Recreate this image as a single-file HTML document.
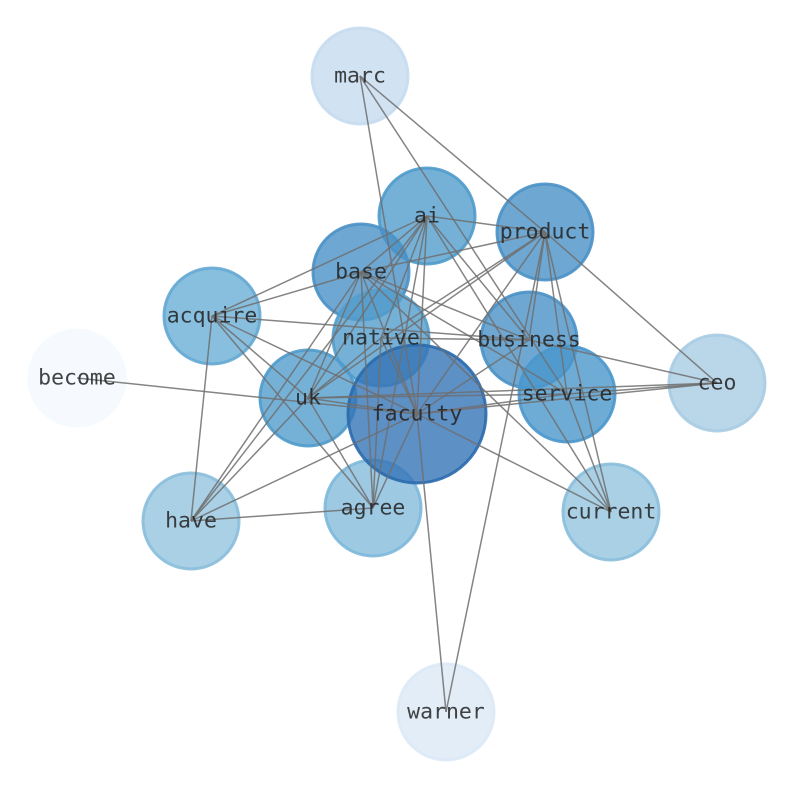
<!DOCTYPE html>
<html><head><style>html,body{margin:0;padding:0;background:#fff}</style></head>
<body>
<svg width="794" height="790" viewBox="0 0 794 790" xmlns="http://www.w3.org/2000/svg">
<g stroke-width="3" fill-opacity="0.8" stroke-opacity="0.9">
<circle cx="360" cy="76" r="48" fill="#c6dbef" stroke="#c6dbef"/>
<circle cx="77" cy="378" r="48" fill="#f4f9fe" stroke="#f4f9fe"/>
<circle cx="446" cy="712" r="48" fill="#dbe9f6" stroke="#dbe9f6"/>
<circle cx="717" cy="383" r="48" fill="#a9cce3" stroke="#a9cce3"/>
<circle cx="191" cy="521" r="48" fill="#94c4df" stroke="#89bedc"/>
<circle cx="611" cy="512" r="48" fill="#94c4df" stroke="#89bedc"/>
<circle cx="373" cy="508" r="48" fill="#85bcdc" stroke="#7db8da"/>
<circle cx="212" cy="316" r="48" fill="#6aaed6" stroke="#64a9d3"/>
<circle cx="427" cy="216" r="48" fill="#539ecd" stroke="#4f9bcb"/>
<circle cx="361" cy="272" r="48" fill="#4a91c6" stroke="#4a91c6"/>
<circle cx="545" cy="232" r="48" fill="#4a91c6" stroke="#4a91c6"/>
<circle cx="381" cy="338" r="48" fill="#539ecd" stroke="#539ecd"/>
<circle cx="529" cy="340" r="48" fill="#4a91c6" stroke="#4a91c6"/>
<circle cx="308" cy="398" r="48" fill="#539ecd" stroke="#4f9bcb"/>
<circle cx="567" cy="394" r="48" fill="#4a97cc" stroke="#4a97cc"/>
<circle cx="417" cy="414" r="69" fill="#3474b6" stroke="#2a6aad"/>
</g>
<g stroke="#6e6e6e" stroke-width="1.5" stroke-opacity="0.85">
<line x1="360" y1="76" x2="545" y2="232"/>
<line x1="360" y1="76" x2="417" y2="414"/>
<line x1="360" y1="76" x2="567" y2="394"/>
<line x1="545" y1="232" x2="717" y2="383"/>
<line x1="545" y1="232" x2="446" y2="712"/>
<line x1="417" y1="414" x2="446" y2="712"/>
<line x1="427" y1="216" x2="545" y2="232"/>
<line x1="427" y1="216" x2="212" y2="316"/>
<line x1="427" y1="216" x2="361" y2="272"/>
<line x1="427" y1="216" x2="308" y2="398"/>
<line x1="427" y1="216" x2="191" y2="521"/>
<line x1="427" y1="216" x2="373" y2="508"/>
<line x1="427" y1="216" x2="417" y2="414"/>
<line x1="427" y1="216" x2="529" y2="340"/>
<line x1="427" y1="216" x2="611" y2="512"/>
<line x1="427" y1="216" x2="381" y2="338"/>
<line x1="545" y1="232" x2="361" y2="272"/>
<line x1="545" y1="232" x2="308" y2="398"/>
<line x1="545" y1="232" x2="381" y2="338"/>
<line x1="545" y1="232" x2="417" y2="414"/>
<line x1="545" y1="232" x2="567" y2="394"/>
<line x1="545" y1="232" x2="611" y2="512"/>
<line x1="545" y1="232" x2="529" y2="340"/>
<line x1="361" y1="272" x2="212" y2="316"/>
<line x1="361" y1="272" x2="191" y2="521"/>
<line x1="361" y1="272" x2="308" y2="398"/>
<line x1="361" y1="272" x2="417" y2="414"/>
<line x1="361" y1="272" x2="373" y2="508"/>
<line x1="361" y1="272" x2="529" y2="340"/>
<line x1="361" y1="272" x2="567" y2="394"/>
<line x1="361" y1="272" x2="611" y2="512"/>
<line x1="212" y1="316" x2="529" y2="340"/>
<line x1="212" y1="316" x2="417" y2="414"/>
<line x1="212" y1="316" x2="308" y2="398"/>
<line x1="212" y1="316" x2="373" y2="508"/>
<line x1="212" y1="316" x2="191" y2="521"/>
<line x1="77" y1="378" x2="417" y2="414"/>
<line x1="308" y1="398" x2="567" y2="394"/>
<line x1="308" y1="398" x2="717" y2="383"/>
<line x1="308" y1="398" x2="417" y2="414"/>
<line x1="308" y1="398" x2="373" y2="508"/>
<line x1="308" y1="398" x2="191" y2="521"/>
<line x1="308" y1="398" x2="381" y2="338"/>
<line x1="417" y1="414" x2="567" y2="394"/>
<line x1="417" y1="414" x2="717" y2="383"/>
<line x1="417" y1="414" x2="611" y2="512"/>
<line x1="417" y1="414" x2="373" y2="508"/>
<line x1="417" y1="414" x2="191" y2="521"/>
<line x1="417" y1="414" x2="381" y2="338"/>
<line x1="417" y1="414" x2="529" y2="340"/>
<line x1="381" y1="338" x2="529" y2="340"/>
<line x1="381" y1="338" x2="373" y2="508"/>
<line x1="567" y1="394" x2="717" y2="383"/>
<line x1="567" y1="394" x2="611" y2="512"/>
<line x1="529" y1="340" x2="717" y2="383"/>
<line x1="191" y1="521" x2="373" y2="508"/>
</g>
<g font-family="'DejaVu Sans Mono', 'Liberation Mono', monospace" font-size="21.5" fill="#222" fill-opacity="0.85" text-anchor="middle" dominant-baseline="central">
<text x="360" y="76">marc</text>
<text x="427" y="216">ai</text>
<text x="545" y="232">product</text>
<text x="361" y="272">base</text>
<text x="212" y="316">acquire</text>
<text x="381" y="338">native</text>
<text x="529" y="340">business</text>
<text x="77" y="378">become</text>
<text x="308" y="398">uk</text>
<text x="417" y="414">faculty</text>
<text x="567" y="394">service</text>
<text x="717" y="383">ceo</text>
<text x="191" y="521">have</text>
<text x="373" y="508">agree</text>
<text x="611" y="512">current</text>
<text x="446" y="712">warner</text>
</g>
</svg>
</body></html>
